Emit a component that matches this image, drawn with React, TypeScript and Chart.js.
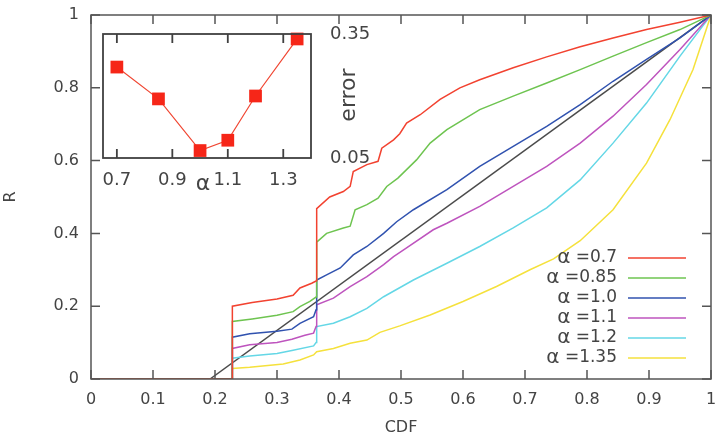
import React, { useEffect, useRef } from "react";
import { Chart, registerables } from "chart.js";

Chart.register(...registerables);

// ---------- main chart data ----------
const xTicks = [0, 0.1, 0.2, 0.3, 0.4, 0.5, 0.6, 0.7, 0.8, 0.9, 1];
const yTicks = [0, 0.2, 0.4, 0.6, 0.8, 1];

const labels = ["α =0.7", "α =0.85", "α =1.0", "α =1.1", "α =1.2", "α =1.35"];
const colors = [
  "rgb(242,66,48)",
  "rgb(110,196,80)",
  "rgb(48,82,175)",
  "rgb(190,84,190)",
  "rgb(100,215,230)",
  "rgb(245,225,60)",
];

const cdf070 = [0, 0.228, 0.228, 0.26, 0.3, 0.326, 0.337, 0.356, 0.364, 0.364, 0.385, 0.407, 0.418, 0.423, 0.445, 0.463, 0.469, 0.488, 0.498, 0.509, 0.531, 0.563, 0.595, 0.627, 0.681, 0.735, 0.789, 0.842, 0.896, 0.95, 1];
const r070 = [0, 0, 0.2, 0.21, 0.22, 0.23, 0.25, 0.263, 0.27, 0.468, 0.5, 0.515, 0.529, 0.57, 0.589, 0.598, 0.634, 0.657, 0.674, 0.703, 0.726, 0.768, 0.8, 0.822, 0.855, 0.885, 0.913, 0.937, 0.96, 0.98, 1];

const cdf085 = [0, 0.228, 0.228, 0.26, 0.3, 0.326, 0.337, 0.353, 0.363, 0.364, 0.38, 0.407, 0.418, 0.426, 0.445, 0.463, 0.477, 0.495, 0.525, 0.547, 0.574, 0.627, 0.681, 0.735, 0.789, 0.842, 0.896, 0.95, 1];
const r085 = [0, 0, 0.158, 0.165, 0.175, 0.185, 0.199, 0.213, 0.225, 0.376, 0.4, 0.415, 0.42, 0.465, 0.479, 0.497, 0.529, 0.552, 0.602, 0.648, 0.685, 0.74, 0.777, 0.813, 0.85, 0.887, 0.924, 0.96, 1];

const cdf100 = [0, 0.228, 0.228, 0.256, 0.3, 0.324, 0.337, 0.359, 0.363, 0.364, 0.38, 0.402, 0.423, 0.445, 0.472, 0.493, 0.52, 0.574, 0.627, 0.681, 0.735, 0.789, 0.842, 0.896, 0.95, 1];
const r100 = [0, 0, 0.115, 0.124, 0.131, 0.137, 0.153, 0.171, 0.19, 0.272, 0.286, 0.305, 0.341, 0.364, 0.4, 0.432, 0.465, 0.52, 0.584, 0.639, 0.694, 0.754, 0.818, 0.878, 0.937, 1];

const cdf110 = [0, 0.228, 0.228, 0.256, 0.3, 0.324, 0.345, 0.359, 0.363, 0.364, 0.391, 0.418, 0.445, 0.472, 0.488, 0.509, 0.552, 0.574, 0.627, 0.681, 0.735, 0.789, 0.842, 0.896, 0.95, 1];
const r110 = [0, 0, 0.084, 0.094, 0.1, 0.109, 0.12, 0.126, 0.144, 0.204, 0.222, 0.254, 0.281, 0.314, 0.336, 0.36, 0.41, 0.428, 0.474, 0.529, 0.584, 0.648, 0.722, 0.809, 0.905, 1];

const cdf120 = [0, 0.228, 0.228, 0.256, 0.3, 0.324, 0.359, 0.363, 0.364, 0.391, 0.418, 0.445, 0.472, 0.52, 0.574, 0.627, 0.681, 0.735, 0.789, 0.842, 0.896, 0.95, 1];
const r120 = [0, 0, 0.057, 0.063, 0.07, 0.078, 0.091, 0.1, 0.144, 0.153, 0.171, 0.194, 0.226, 0.272, 0.318, 0.364, 0.415, 0.47, 0.547, 0.648, 0.758, 0.887, 1];

const cdf135 = [0, 0.228, 0.228, 0.256, 0.31, 0.337, 0.359, 0.364, 0.391, 0.418, 0.445, 0.466, 0.498, 0.547, 0.6, 0.654, 0.708, 0.746, 0.789, 0.842, 0.896, 0.934, 0.971, 1];
const r135 = [0, 0, 0.029, 0.032, 0.041, 0.052, 0.066, 0.075, 0.084, 0.098, 0.107, 0.128, 0.146, 0.176, 0.213, 0.254, 0.3, 0.33, 0.38, 0.465, 0.593, 0.713, 0.85, 1];

const diagCdf = [0.192, 1];
const diagR = [0, 1];

// ---------- inset data ----------
const alphaValues = [0.7, 0.85, 1.0, 1.1, 1.2, 1.35];
const errorValues = [0.27, 0.193, 0.068, 0.093, 0.2, 0.338];
const alphaTicks = [0.7, 0.9, 1.1, 1.3];
const errorTicks = [0.05, 0.35];

const seriesX = [cdf070, cdf085, cdf100, cdf110, cdf120, cdf135];
const seriesY = [r070, r085, r100, r110, r120, r135];

const FONT = "'DejaVu Sans', sans-serif";
const TEXT = "#444";
const AXIS = "#555";

const toPoints = (xs: number[], ys: number[]) => xs.map((x, i) => ({ x, y: ys[i] }));

const frameMain = {
  id: "frameMain",
  afterDatasetsDraw(chart: any) {
    const { ctx, chartArea } = chart;
    const { left, right, top, bottom } = chartArea;
    const xs = chart.scales.x;
    const ys = chart.scales.y;
    const L = 9;
    ctx.save();
    ctx.strokeStyle = AXIS;
    ctx.lineWidth = 1.5;
    ctx.beginPath();
    xs.ticks.forEach((t: any) => {
      const p = xs.getPixelForValue(t.value);
      ctx.moveTo(p, bottom);
      ctx.lineTo(p, bottom - L);
      ctx.moveTo(p, top);
      ctx.lineTo(p, top + L);
    });
    ys.ticks.forEach((t: any) => {
      const p = ys.getPixelForValue(t.value);
      ctx.moveTo(left, p);
      ctx.lineTo(left + L, p);
      ctx.moveTo(right, p);
      ctx.lineTo(right - L, p);
    });
    ctx.stroke();
    ctx.strokeRect(left, top, right - left, bottom - top);
    ctx.restore();
  },
  afterDraw(chart: any) {
    const { ctx, chartArea } = chart;
    const { right, bottom } = chartArea;
    const ds = chart.data.datasets.filter((d: any) => d.label);
    const n = ds.length;
    ctx.save();
    ds.forEach((d: any, i: number) => {
      const y = bottom - 21 - (n - 1 - i) * 20;
      const textRight = right - 94;
      const rest = d.label.slice(1).trimStart();
      ctx.fillStyle = TEXT;
      ctx.textBaseline = "middle";
      ctx.textAlign = "right";
      ctx.font = `17px ${FONT}`;
      ctx.fillText(rest, textRight, y);
      const w = ctx.measureText(rest).width;
      const sp = ctx.measureText(" ").width;
      ctx.font = `20px ${FONT}`;
      ctx.fillText(d.label[0], textRight - w - sp, y);
      ctx.strokeStyle = d.borderColor;
      ctx.lineWidth = 1.5;
      ctx.beginPath();
      ctx.moveTo(right - 83, y);
      ctx.lineTo(right - 25, y);
      ctx.stroke();
    });
    ctx.restore();
  },
};

const frameInset = {
  id: "frameInset",
  afterDatasetsDraw(chart: any) {
    const { ctx, chartArea } = chart;
    const { left, right, top, bottom } = chartArea;
    const xs = chart.scales.x;
    const ys = chart.scales.y;
    const L = 9;
    ctx.save();
    ctx.strokeStyle = "#404040";
    ctx.lineWidth = 1.8;
    ctx.beginPath();
    alphaTicks.forEach((v) => {
      const p = xs.getPixelForValue(v);
      ctx.moveTo(p, bottom);
      ctx.lineTo(p, bottom - L);
      ctx.moveTo(p, top);
      ctx.lineTo(p, top + L);
    });
    ctx.stroke();
    ctx.strokeRect(left, top, right - left, bottom - top);
    // tick labels
    ctx.fillStyle = TEXT;
    ctx.font = `18px ${FONT}`;
    ctx.textBaseline = "middle";
    ctx.textAlign = "center";
    alphaTicks.forEach((v) => {
      ctx.fillText(String(v), xs.getPixelForValue(v), bottom + 22);
    });
    ctx.textAlign = "left";
    errorTicks.forEach((v) => {
      ctx.fillText(String(v), right + 19, ys.getPixelForValue(v));
    });
    // titles
    ctx.textAlign = "center";
    ctx.font = `22px ${FONT}`;
    ctx.fillText("α", (left + right) / 2 - 4, bottom + 26);
    ctx.translate(right + 38, (top + bottom) / 2 - 1);
    ctx.rotate(-Math.PI / 2);
    ctx.font = `22px ${FONT}`;
    ctx.fillText("error", 0, 0);
    ctx.restore();
  },
};

export default function App() {
  const mainRef = useRef<HTMLCanvasElement>(null);
  const insetRef = useRef<HTMLCanvasElement>(null);

  useEffect(() => {
    const tickFont = { family: FONT, size: 16 };
    const datasets: any[] = seriesX.map((xs, i) => ({
      label: labels[i],
      data: toPoints(xs, seriesY[i]),
      borderColor: colors[i],
      backgroundColor: colors[i],
      borderWidth: 1.5,
      pointRadius: 0,
      tension: 0,
      fill: false,
    }));
    datasets.push({
      label: "",
      data: toPoints(diagCdf, diagR),
      borderColor: "rgb(75,75,75)",
      borderWidth: 1.5,
      pointRadius: 0,
      fill: false,
    });

    const noPad = (s: any) => {
      s.paddingLeft = 0;
      s.paddingRight = 0;
      s.paddingTop = 0;
      s.paddingBottom = 0;
    };

    const main = new Chart(mainRef.current!, {
      type: "line",
      data: { datasets },
      options: {
        animation: false,
        responsive: false,
        maintainAspectRatio: false,
        layout: { padding: { top: 15, right: 8, left: 0, bottom: 0 } },
        plugins: { legend: { display: false }, tooltip: { enabled: false } },
        scales: {
          x: {
            type: "linear",
            min: 0,
            max: 1,
            afterBuildTicks: (s: any) => {
              s.ticks = xTicks.map((v) => ({ value: v }));
            },
            afterFit: (s: any) => {
              s.height = 59;
              noPad(s);
            },
            grid: { display: false, drawTicks: false },
            border: { display: false },
            ticks: {
              padding: 11,
              font: tickFont,
              color: TEXT,
              maxRotation: 0,
              autoSkip: false,
              callback: (v: any) => String(v),
            },
            title: {
              display: true,
              text: "CDF",
              font: { family: FONT, size: 16 },
              color: TEXT,
              padding: { top: 0, bottom: 1 },
            },
          },
          y: {
            type: "linear",
            min: 0,
            max: 1,
            afterBuildTicks: (s: any) => {
              s.ticks = yTicks.map((v) => ({ value: v }));
            },
            afterFit: (s: any) => {
              s.width = 91;
              noPad(s);
            },
            grid: { display: false, drawTicks: false },
            border: { display: false },
            ticks: {
              padding: 12,
              font: tickFont,
              color: TEXT,
              autoSkip: false,
              callback: (v: any) => String(v),
            },
            title: {
              display: true,
              text: "R",
              font: { family: FONT, size: 16 },
              color: TEXT,
              padding: { top: 1, bottom: 0 },
            },
          },
        },
      },
      plugins: [frameMain],
    } as any);

    const inset = new Chart(insetRef.current!, {
      type: "line",
      data: {
        datasets: [
          {
            data: toPoints(alphaValues, errorValues),
            borderColor: "rgb(240,70,50)",
            backgroundColor: "rgb(246,38,24)",
            borderWidth: 1.2,
            pointStyle: "rect",
            pointRadius: 9,
            pointBorderWidth: 0,
            pointBorderColor: "rgb(246,38,24)",
            tension: 0,
            fill: false,
            clip: false,
          },
        ],
      },
      options: {
        animation: false,
        responsive: false,
        maintainAspectRatio: false,
        layout: { padding: { left: 103, top: 34, right: 408, bottom: 280 } },
        plugins: { legend: { display: false }, tooltip: { enabled: false } },
        scales: {
          x: {
            type: "linear",
            min: 0.65,
            max: 1.4,
            afterFit: (s: any) => {
              s.height = 0;
              noPad(s);
            },
            grid: { display: false, drawTicks: false },
            border: { display: false },
            ticks: { display: false },
          },
          y: {
            type: "linear",
            position: "right",
            min: 0.05,
            max: 0.35,
            afterFit: (s: any) => {
              s.width = 0;
              noPad(s);
            },
            grid: { display: false, drawTicks: false },
            border: { display: false },
            ticks: { display: false },
          },
        },
      },
      plugins: [frameInset],
    } as any);

    return () => {
      main.destroy();
      inset.destroy();
    };
  }, []);

  const canvasStyle: React.CSSProperties = {
    position: "absolute",
    left: 0,
    top: 0,
    width: 719,
    height: 438,
  };

  return (
    <div style={{ position: "absolute", left: 0, top: 0, width: 719, height: 438, background: "#fff" }}>
      <canvas ref={mainRef} width={719} height={438} style={canvasStyle} />
      <canvas ref={insetRef} width={719} height={438} style={canvasStyle} />
    </div>
  );
}
